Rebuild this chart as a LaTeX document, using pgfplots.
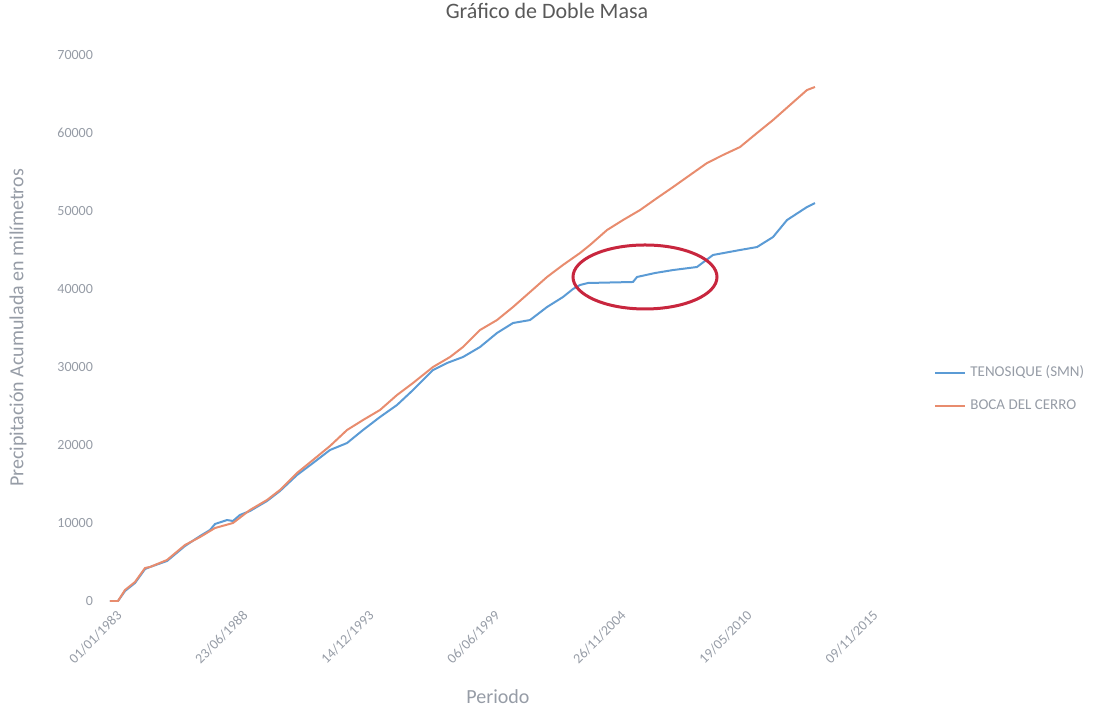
\documentclass[border=0pt]{standalone}
\usepackage{pgfplots}
\pgfplotsset{compat=1.18}
\usepackage{fontspec}
\setmainfont{Carlito}
\definecolor{cblue}{RGB}{91,155,213}
\definecolor{corange}{RGB}{232,140,110}
\definecolor{ctick}{RGB}{150,156,166}
\definecolor{ctitle}{RGB}{89,89,89}
\definecolor{cred}{RGB}{200,38,62}
\begin{document}
\begin{tikzpicture}
\path (-55pt,-56pt) rectangle (494pt,300.5pt);
\begin{axis}[
  at={(0,0)}, anchor=south west,
  scale only axis, width=378pt, height=273pt,
  xmin=0, xmax=12000, ymin=0, ymax=70000,
  axis line style={draw=none},
  major tick length=0pt,
  scaled x ticks=false, scaled y ticks=false,
  xtick={0,2000,4000,6000,8000,10000,12000},
  xticklabels={01/01/1983,23/06/1988,14/12/1993,06/06/1999,26/11/2004,19/05/2010,09/11/2015},
  x tick label style={rotate=45, anchor=north east, font=\fontsize{7}{8}\selectfont, text=ctick, inner sep=1pt, yshift=-4pt},
  ytick={0,10000,...,70000},
  yticklabel style={font=\fontsize{7}{8}\selectfont, text=ctick, xshift=-5pt},
  /pgf/number format/assume math mode=true,
  yticklabel={\pgfmathprintnumber[fixed, 1000 sep={}]{\tick}},
  title={Gráfico de Doble Masa},
  title style={at={(rel axis cs:0,1)}, anchor=center, xshift=218.5pt, yshift=16pt, inner sep=1pt, font=\fontsize{11}{13}\selectfont, text=ctitle},
  xlabel={Periodo},
  xlabel style={at={(rel axis cs:0.5,0)}, anchor=center, xshift=5pt, yshift=-48pt, inner sep=1pt, font=\fontsize{10}{12}\selectfont, text=ctick},
  ylabel={Precipitación Acumulada en milímetros},
  ylabel style={at={(rel axis cs:0,0.5)}, anchor=center, rotate=0, yshift=46pt, inner sep=1pt, font=\fontsize{10}{12}\selectfont, text=ctick},
  legend style={at={(rel axis cs:1.082,0.388)}, anchor=west, draw=none, fill=none, font=\fontsize{7.5}{8}\selectfont, text=ctick, row sep=6pt},
  legend cell align=left,
  legend image code/.code={\draw[#1] (0pt,0pt) -- (15pt,0pt);},
]
\addplot[cblue, line width=1pt] coordinates {
(0,0) (127,0) (238,1280) (397,2310) (556,4100) (635,4360) (905,5130) (1190,7050)
(1429,8330) (1587,9100) (1667,9870) (1857,10380) (1952,10260) (2063,11030)
(2222,11540) (2492,12820) (2698,14100) (2968,16150) (3222,17690) (3492,19360)
(3762,20250) (4016,21920) (4286,23590) (4556,25130) (4810,27050) (5127,29610)
(5349,30510) (5603,31280) (5873,32560) (6143,34360) (6397,35640) (6667,36020)
(6937,37690) (7190,38970) (7349,40000) (7460,40510) (7587,40770) (8302,40900)
(8365,41540) (8651,42050) (8937,42430) (9317,42820) (9571,44360) (10000,45000)
(10270,45380) (10524,46660) (10746,48840) (11063,50510) (11190,51020)
};
\addlegendentry{TENOSIQUE (SMN)}
\addplot[corange, line width=1pt] coordinates {
(0,0) (127,0) (238,1410) (397,2440) (556,4230) (635,4360) (905,5260) (1190,7180)
(1429,8200) (1667,9360) (1952,10000) (2222,11670) (2492,12950) (2698,14230)
(2968,16410) (3222,18080) (3492,19870) (3762,21920) (4016,23200) (4286,24490)
(4556,26410) (4810,27950) (5127,30000) (5397,31280) (5603,32560) (5873,34740)
(6143,36020) (6397,37690) (6667,39610) (6937,41540) (7190,43080) (7460,44610)
(7619,45640) (7889,47560) (8143,48840) (8413,50120) (8683,51660) (8937,53070)
(9206,54610) (9476,56150) (9730,57180) (10000,58200) (10270,60000) (10524,61660)
(10794,63590) (11063,65510) (11190,65900)
};
\addlegendentry{BOCA DEL CERRO}
\draw[cred, line width=1.5pt] (axis cs:8492,41540) ellipse [x radius=36pt, y radius=16pt];
\end{axis}
\end{tikzpicture}
\end{document}
